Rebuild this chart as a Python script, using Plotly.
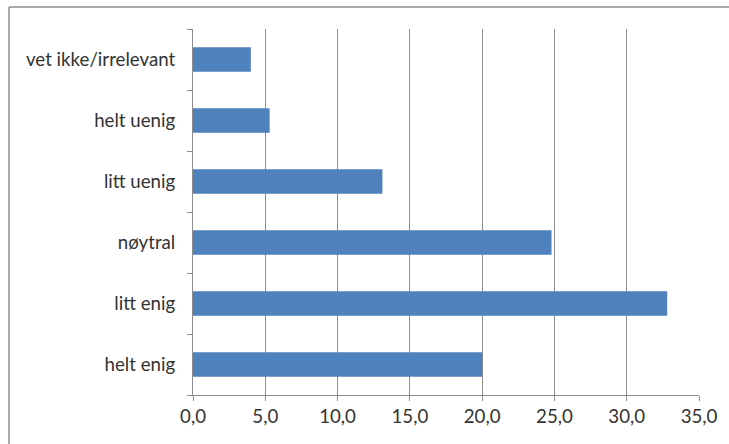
import plotly.graph_objects as go

categories = ["helt enig", "litt enig", "nøytral", "litt uenig", "helt uenig", "vet ikke/irrelevant"]
values = [20.0, 32.8, 24.8, 13.1, 5.3, 4.0]
tick_vals = [0, 5, 10, 15, 20, 25, 30, 35]
tick_text = ["0,0", "5,0", "10,0", "15,0", "20,0", "25,0", "30,0", "35,0"]

W, H = 729, 444
L, T = 193, 29
R = W - 699
B = H - 395
pw, ph = W - L - R, H - T - B

fig = go.Figure(go.Bar(
    y=categories, x=values, orientation="h",
    marker=dict(color="#4F81BD", line=dict(width=0)),
    width=0.4,
))

font = dict(family="Lato, Open Sans, sans-serif", size=18.7, color="#333333")

bx0 = (9 - L) / pw
by1 = 1 + (T - 7) / ph
border = dict(color="#8C8C8C", width=1.5)

fig.update_layout(
    width=W, height=H, autosize=False,
    margin=dict(l=L, r=R, t=T, b=B, pad=0),
    paper_bgcolor="white", plot_bgcolor="white",
    showlegend=False,
    font=font,
    xaxis=dict(
        range=[0, 35], tickvals=tick_vals, ticktext=tick_text,
        showgrid=True, gridcolor="#8C8C8C", gridwidth=1,
        showline=True, linecolor="#8C8C8C", linewidth=1,
        ticks="outside", ticklen=5, tickcolor="#8C8C8C",
        zeroline=False, tickfont=font,
    ),
    yaxis=dict(
        type="category", categoryorder="array", categoryarray=categories,
        showgrid=False, showline=True, linecolor="#8C8C8C", linewidth=1,
        ticks="outside", ticklen=5, tickcolor="#8C8C8C", tickson="boundaries",
        ticklabelstandoff=13, tickfont=font,
    ),
    shapes=[
        dict(type="line", xref="paper", yref="paper", x0=bx0, x1=1.2, y0=by1, y1=by1,
             line=border, layer="below"),
        dict(type="line", xref="paper", yref="paper", x0=bx0, x1=bx0, y0=by1, y1=-0.3,
             line=border, layer="below"),
    ],
)

fig.write_html(
    "out.html",
    config={"displayModeBar": False},
    post_script="document.body.style.margin='0';document.body.style.overflow='hidden';",
)
